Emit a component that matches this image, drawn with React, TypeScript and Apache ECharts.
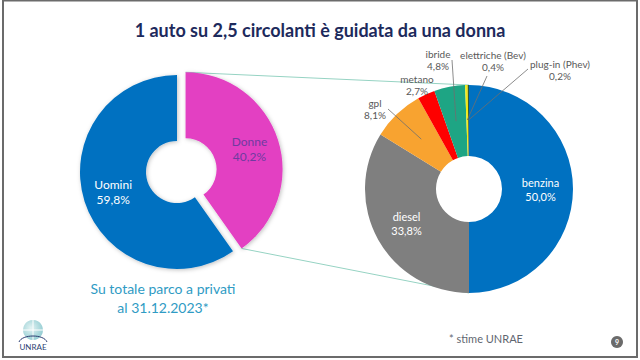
import React, { useEffect, useRef } from 'react';
import * as echarts from 'echarts';

// ---- data ----
const genderNames = ['Donne', 'Uomini'];
const genderValues = [40.2, 59.8];

const fuelNames = ['benzina', 'diesel', 'gpl', 'metano', 'ibride', 'elettriche (Bev)', 'plug-in (Phev)'];
const fuelValues = [50.0, 33.8, 8.1, 2.7, 4.8, 0.4, 0.2];

const titleText = '1 auto su 2,5 circolanti è guidata da una donna';
const subtitleLines = ['Su totale parco a privati', 'al 31.12.2023*'];
const noteText = '* stime UNRAE';

// ---- styles / layout ----
const genderColors = ['#e33fc2', '#0071c1'];
const genderLabelColors = ['#6f3ba0', '#ffffff'];
const fuelColors = ['#0071c1', '#7f7f7f', '#f8a330', '#fe0000', '#1ea584', '#f3ea14', '#3b5a2a'];

const L = { cx: 177, cy: 172, r0: 31, r: 97, offset: 9 };
const R = { cx: 469, cy: 189, r0: 33, r: 104 };
const anchorR = 69;

// outside label placement: centre of the label box, and where its leader starts
type Spot = { x: number; y: number; lx?: number; ly?: number };
const labelSpots: Record<string, Spot> = {
  gpl: { x: 375, y: 109, lx: 388, ly: 109 },
  metano: { x: 417, y: 85 },
  ibride: { x: 438, y: 60, lx: 452, ly: 60 },
  'elettriche (Bev)': { x: 493, y: 61, lx: 487, ly: 76 },
  'plug-in (Phev)': { x: 560, y: 70, lx: 528, ly: 69 },
};

const fmt = (v: number) => v.toFixed(1).replace('.', ',') + '%';
const FONT = 'Lato, "Open Sans", sans-serif';

export default function App() {
  const ref = useRef<HTMLDivElement>(null);

  useEffect(() => {
    if (!ref.current) return;
    const chart = echarts.init(ref.current, null, { renderer: 'svg' });

    const fuelTotal = fuelValues.reduce((a, b) => a + b, 0);
    const genderTotal = genderValues.reduce((a, b) => a + b, 0);

    // Donne slice geometry (for connector lines)
    const donneFrac = genderValues[0] / genderTotal;
    const midA = (donneFrac / 2) * 2 * Math.PI;
    const endA = donneFrac * 2 * Math.PI;
    const ox = L.offset * Math.sin(midA);
    const oy = -L.offset * Math.cos(midA);
    const topCorner = [L.cx + ox, L.cy - L.r + oy];
    const botCorner = [L.cx + L.r * Math.sin(endA) + ox, L.cy - L.r * Math.cos(endA) + oy];

    // leader lines from labels into their slices (slice angle from data)
    const leaders: any[] = [];
    fuelNames.forEach((n, i) => {
      const s = labelSpots[n];
      if (!s || s.lx == null || s.ly == null) return;
      const before = fuelValues.slice(0, i).reduce((a, b) => a + b, 0);
      const mid = (before + fuelValues[i] / 2) / fuelTotal;
      const th = ((90 - 360 * mid) * Math.PI) / 180;
      const ax = R.cx + anchorR * Math.cos(th);
      const ay = R.cy - anchorR * Math.sin(th);
      leaders.push({
        type: 'line', z: 20, silent: true,
        shape: { x1: s.lx, y1: s.ly, x2: ax, y2: ay },
        style: { stroke: '#6f6f6f', lineWidth: 0.8 },
      });
    });

    const option: any = {
      animation: false,
      backgroundColor: '#ffffff',
      textStyle: { fontFamily: FONT },
      graphic: [
        {
          type: 'rect', z: 0, silent: true,
          shape: { x: 3, y: 0.5, width: 634, height: 356.5 },
          style: { fill: 'none', stroke: '#6b6b6b', lineWidth: 2 },
        },
        {
          type: 'text', x: 320, y: 30, silent: true,
          style: {
            text: titleText, textAlign: 'center', textVerticalAlign: 'middle',
            font: `bold 18px ${FONT}`, fill: '#1d2a5c',
          },
        },
        {
          type: 'line', z: 0, silent: true,
          shape: { x1: topCorner[0], y1: topCorner[1], x2: R.cx, y2: R.cy - R.r },
          style: { stroke: '#96d3c3', lineWidth: 1 },
        },
        {
          type: 'line', z: 0, silent: true,
          shape: { x1: botCorner[0], y1: botCorner[1], x2: R.cx, y2: R.cy + R.r },
          style: { stroke: '#96d3c3', lineWidth: 1 },
        },
        ...leaders,
        {
          type: 'text', x: 163, y: 298, silent: true,
          style: {
            text: subtitleLines.join('\n'), textAlign: 'center', textVerticalAlign: 'middle',
            fontSize: 14, lineHeight: 19, fontFamily: FONT, fill: '#2f9bc4',
          },
        },
        {
          type: 'text', x: 486, y: 338, silent: true,
          style: {
            text: noteText, textAlign: 'center', textVerticalAlign: 'middle',
            fontSize: 11, fontFamily: FONT, fill: '#5f6670',
          },
        },
        { type: 'circle', shape: { cx: 617, cy: 342, r: 6 }, style: { fill: '#6b6b6b' }, silent: true },
        {
          type: 'text', x: 617, y: 342, silent: true,
          style: { text: '9', textAlign: 'center', textVerticalAlign: 'middle', fontSize: 7, fontWeight: 'bold', fill: '#fff', fontFamily: FONT },
        },
        // logo
        {
          type: 'group', silent: true,
          children: [
            {
              type: 'circle', shape: { cx: 33, cy: 330, r: 10 },
              style: {
                fill: new echarts.graphic.RadialGradient(0.4, 0.4, 0.7, [
                  { offset: 0, color: '#e3f3f3' },
                  { offset: 1, color: '#8cc9cf' },
                ]),
              },
            },
            { type: 'line', shape: { x1: 23, y1: 330, x2: 43, y2: 330 }, style: { stroke: '#ffffff', lineWidth: 1 } },
            { type: 'line', shape: { x1: 33, y1: 320, x2: 33, y2: 340 }, style: { stroke: '#ffffff', lineWidth: 1 } },
            {
              type: 'bezierCurve',
              shape: { x1: 19, y1: 342, x2: 47, y2: 342, cpx1: 22, cpy1: 334, cpx2: 44, cpy2: 334 },
              style: { stroke: '#2d3f73', lineWidth: 1, fill: 'none' },
            },
            {
              type: 'text', x: 33, y: 347,
              style: { text: 'UNRAE', textAlign: 'center', textVerticalAlign: 'middle', fontSize: 8, fontFamily: FONT, fill: '#2d3f73' },
            },
          ],
        },
      ],
      series: [
        {
          type: 'pie',
          name: 'genere',
          center: [L.cx, L.cy],
          radius: [L.r0, L.r],
          startAngle: 90,
          clockwise: true,
          selectedMode: 'single',
          selectedOffset: L.offset,
          avoidLabelOverlap: false,
          emphasis: { disabled: true },
          itemStyle: { shadowBlur: 4, shadowColor: 'rgba(0,0,0,0.25)', shadowOffsetX: 1, shadowOffsetY: 1 },
          label: {
            show: true, position: 'inside', fontSize: 12, lineHeight: 15, fontFamily: FONT,
            formatter: (p: any) => p.name + '\n' + fmt(p.value),
          },
          labelLine: { show: false },
          data: genderNames.map((n, i) => ({
            name: n,
            value: genderValues[i],
            selected: i === 0,
            itemStyle: { color: genderColors[i] },
            label: { color: genderLabelColors[i] },
          })),
        },
        {
          type: 'pie',
          name: 'alimentazione',
          center: [R.cx, R.cy],
          radius: [R.r0, R.r],
          startAngle: 90,
          clockwise: true,
          avoidLabelOverlap: false,
          emphasis: { disabled: true },
          label: {
            show: true, position: 'outside', fontSize: 10, lineHeight: 12, fontFamily: FONT, color: '#595959',
            formatter: (p: any) => p.name + '\n' + fmt(p.value),
          },
          labelLine: { show: false },
          labelLayout: (p: any) => {
            const spot = labelSpots[fuelNames[p.dataIndex]];
            if (!spot) return {};
            return { x: spot.x, y: spot.y, align: 'center', verticalAlign: 'middle' };
          },
          data: fuelNames.map((n, i) => ({
            name: n,
            value: fuelValues[i],
            itemStyle: { color: fuelColors[i] },
            label: i < 2 ? { position: 'inside', color: '#ffffff', fontSize: 11, lineHeight: 14 } : undefined,
          })),
        },
      ],
    };

    chart.setOption(option);
    return () => chart.dispose();
  }, []);

  return (
    <div
      ref={ref}
      style={{ position: 'absolute', left: 0, top: 0, width: 640, height: 360 }}
    />
  );
}
